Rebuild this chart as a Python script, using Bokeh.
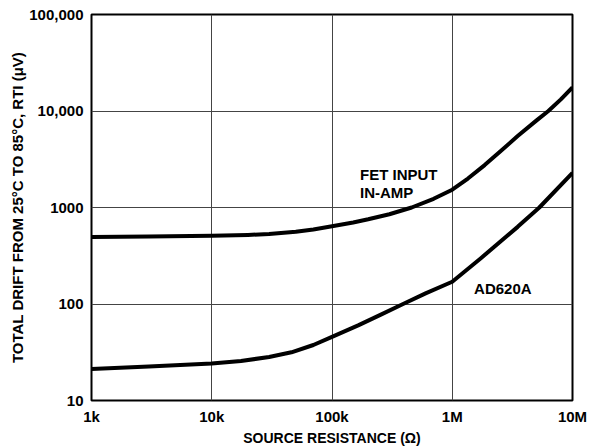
from bokeh.plotting import figure
from bokeh.models import FixedTicker, Label
from bokeh.embed import file_html
from bokeh.resources import INLINE

# Data
fet_x = [1e3, 3e3, 1e4, 2e4, 3e4, 5e4, 7e4, 1e5, 1.5e5, 2e5, 3e5, 4.6e5,
         7e5, 1e6, 1.35e6, 1.86e6, 2.56e6, 3.5e6, 5e6, 6.3e6, 8e6, 1e7]
fet_y = [495, 500, 509, 520, 532, 560, 592, 638, 700, 755, 851, 1000,
         1230, 1530, 1995, 2750, 3890, 5500, 7950, 10000, 13200, 17600]

ad_x = [1e3, 3e3, 1e4, 1.75e4, 3e4, 4.6e4, 7e4, 1e5, 1.65e5, 2.55e5, 3.9e5,
        6e5, 1e6, 1.74e6, 3.5e6, 5.3e6, 1e7]
ad_y = [21.2, 22.5, 24.2, 25.7, 28.2, 31.6, 37.6, 45.7, 60, 77.6, 100,
        129, 170, 300, 630, 1000, 2290]

x_ticks = [1e3, 1e4, 1e5, 1e6, 1e7]
x_tick_labels = ["1k", "10k", "100k", "1M", "10M"]
y_ticks = [10, 100, 1000, 10000, 100000]
y_tick_labels = ["10", "100", "1000", "10,000", "100,000"]

FONT = "Liberation Sans"

p = figure(width=606, height=448, x_axis_type="log", y_axis_type="log",
           x_range=(1e3, 1e7), y_range=(10, 1e5),
           output_backend="svg", toolbar_location=None,
           min_border_left=91, min_border_right=34, min_border_top=14,
           min_border_bottom=47)

p.xaxis.ticker = FixedTicker(ticks=x_ticks, minor_ticks=[])
p.yaxis.ticker = FixedTicker(ticks=y_ticks, minor_ticks=[])
p.xaxis.major_label_overrides = {t: l for t, l in zip(x_ticks, x_tick_labels)}
p.yaxis.major_label_overrides = {t: l for t, l in zip(y_ticks, y_tick_labels)}

for ax in (p.xaxis, p.yaxis):
    ax.major_tick_line_color = None
    ax.minor_tick_line_color = None
    ax.major_tick_out = 0
    ax.major_tick_in = 0
    ax.axis_line_color = None
    ax.major_label_text_font = FONT
    ax.major_label_text_font_style = "bold"
    ax.major_label_text_font_size = "15px"
    ax.major_label_text_color = "black"
    ax.axis_label_text_font = FONT
    ax.axis_label_text_font_style = "bold"
    ax.axis_label_text_color = "black"

p.xaxis.axis_label_text_font_size = "14px"
p.yaxis.axis_label_text_font_size = "15px"
p.xaxis.axis_label = "SOURCE RESISTANCE (Ω)"
p.yaxis.axis_label = "TOTAL DRIFT FROM 25°C TO 85°C, RTI (μV)"
p.xaxis.major_label_standoff = 7
p.xaxis.axis_label_standoff = 2
p.yaxis.major_label_standoff = 8
p.yaxis.axis_label_standoff = 0

p.grid.grid_line_color = "#444444"
p.grid.grid_line_width = 1
p.grid.grid_line_alpha = 1
p.outline_line_color = "black"
p.outline_line_width = 2
p.outline_line_alpha = 1

p.line(fet_x, fet_y, line_color="black", line_width=4, line_join="round")
p.line(ad_x, ad_y, line_color="black", line_width=4, line_join="round")

for txt, x, y in [("FET INPUT", 1.71e5, 2690), ("IN-AMP", 1.71e5, 1750),
                  ("AD620A", 1.52e6, 178)]:
    p.add_layout(Label(x=x, y=y, text=txt, text_font=FONT,
                       text_font_style="bold", text_font_size="15px",
                       text_color="black", text_baseline="top",
                       text_align="left"))

open("out.html", "w").write(file_html(p, INLINE))
